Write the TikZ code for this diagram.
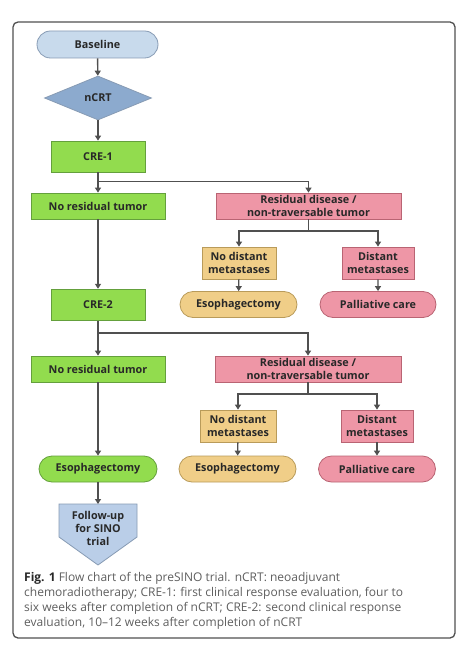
\documentclass[tikz,border=0pt]{standalone}
\usepackage{fontspec}
\setmainfont{Open Sans}
\usetikzlibrary{shapes.geometric,shapes.misc,arrows.meta}
\definecolor{lblue}{RGB}{200,218,236}
\definecolor{lblueb}{RGB}{135,155,180}
\definecolor{dblue}{RGB}{140,170,206}
\definecolor{fblue}{RGB}{186,206,232}
\definecolor{gfill}{RGB}{146,220,78}
\definecolor{gbord}{RGB}{100,160,60}
\definecolor{pfill}{RGB}{238,150,166}
\definecolor{pbord}{RGB}{185,100,115}
\definecolor{yfill}{RGB}{240,206,136}
\definecolor{ybord}{RGB}{185,155,90}
\definecolor{linec}{RGB}{80,80,80}
\definecolor{txt}{RGB}{40,40,40}
\definecolor{captxt}{RGB}{95,95,95}
\tikzset{
  base/.style={font=\fontsize{10.8}{13}\selectfont\bfseries, text=txt, inner sep=0pt, align=center, line width=0.8pt},
  pill/.style={base, rounded rectangle, minimum height=26pt},
  box/.style={base, rectangle},
  gbox/.style={box, fill=gfill, draw=gbord},
  pbox/.style={box, fill=pfill, draw=pbord},
  ybox/.style={box, fill=yfill, draw=ybord},
  arr/.style={draw=linec, line width=1.4pt, -{Triangle[width=6pt,length=5pt]}},
  ln/.style={draw=linec, line width=1.4pt}
}
\begin{document}
\begin{tikzpicture}[x=1pt,y=-1pt]
\useasboundingbox (0,0) rectangle (468,652);
\fill[white] (0,0) rectangle (468,652);
\draw[draw=linec, line width=1.3pt, rounded corners=5pt] (13,22) rectangle (455,638);

% top chain
\node[pill, fill=lblue, draw=lblueb, minimum width=121pt, minimum height=27pt] (base) at (97.5,44.5) {Baseline};
\node[base, diamond, fill=dblue, draw=lblueb, minimum width=107pt, minimum height=44pt] (ncrt) at (98,98) {nCRT};
\node[gbox, minimum width=94pt, minimum height=31pt] (cre1) at (98,156.5) {CRE-1};

% first evaluation
\node[gbox, minimum width=134pt, minimum height=26pt] (nrt1) at (98,206) {No residual tumor};
\node[pbox, minimum width=185pt, minimum height=26pt] (res1) at (308.5,206) {Residual disease /\\non-traversable tumor};
\node[ybox, minimum width=74pt, minimum height=32pt] (nd1) at (239,263) {No distant\\metastases};
\node[pbox, minimum width=72pt, minimum height=32pt] (dm1) at (378,263) {Distant\\metastases};
\node[pill, fill=yfill, draw=ybord, minimum width=117pt] (es1) at (238.5,304.5) {Esophagectomy};
\node[pill, fill=pfill, draw=pbord, minimum width=116pt] (pc1) at (378,304.5) {Palliative care};

\node[gbox, minimum width=94pt, minimum height=31pt] (cre2) at (98,304.7) {CRE-2};

% second evaluation
\node[gbox, minimum width=134pt, minimum height=26pt] (nrt2) at (98,369) {No residual tumor};
\node[pbox, minimum width=186pt, minimum height=26pt] (res2) at (308,369) {Residual disease /\\non-traversable tumor};
\node[ybox, minimum width=76pt, minimum height=32pt] (nd2) at (238,426) {No distant\\metastases};
\node[pbox, minimum width=72pt, minimum height=32pt] (dm2) at (377,426) {Distant\\metastases};
\node[pill, fill=yfill, draw=ybord, minimum width=117pt] (es2) at (237.5,469) {Esophagectomy};
\node[pill, fill=pfill, draw=pbord, minimum width=117pt] (pc2) at (377,469) {Palliative care};
\node[pill, fill=gfill, draw=gbord, minimum width=118pt] (es3) at (98,469) {Esophagectomy};

% follow-up pentagon
\draw[fill=fblue, draw=lblueb, line width=0.8pt] (59,504) -- (137,504) -- (137,537) -- (98,565) -- (59,537) -- cycle;
\coordinate (futop) at (98,504);
\node[base] (fu) at (98,528) {Follow-up\\for SINO\\trial};

% connectors
\draw[arr] (base) -- (ncrt);
\draw[arr] (ncrt) -- (cre1);
\coordinate (b1) at (98,181.5);
\draw[arr] (cre1.south) -- (nrt1.north);
\draw[arr] (b1) -| (res1.north);
\draw[arr] (res1.south) -- ++(0,11.7) -| (nd1.north);
\draw[arr] (res1.south) -- ++(0,11.7) -| (dm1.north);
\draw[arr] (nd1) -- (es1);
\draw[arr] (dm1) -- (pc1);
\draw[arr] (nrt1) -- (cre2);

\coordinate (b2) at (98,333);
\draw[arr] (cre2.south) -- (nrt2.north);
\draw[arr] (b2) -| (res2.north);
\draw[arr] (res2.south) -- ++(0,11.5) -| (nd2.north);
\draw[arr] (res2.south) -- ++(0,11.5) -| (dm2.north);
\draw[arr] (nd2) -- (es2);
\draw[arr] (dm2) -- (pc2);
\draw[arr] (nrt2) -- (es3);
\draw[arr] (es3) -- (futop);

% caption
\node[anchor=north west, inner sep=0pt, align=left, text=captxt, font=\fontsize{12}{15}\selectfont] (cap) at (24,572)
{\textcolor{txt}{\bfseries Fig. 1} Flow chart of the preSINO trial. nCRT: neoadjuvant\\
chemoradiotherapy; CRE-1: first clinical response evaluation, four to\\
six weeks after completion of nCRT; CRE-2: second clinical response\\
evaluation, 10--12 weeks after completion of nCRT};
\end{tikzpicture}
\end{document}
